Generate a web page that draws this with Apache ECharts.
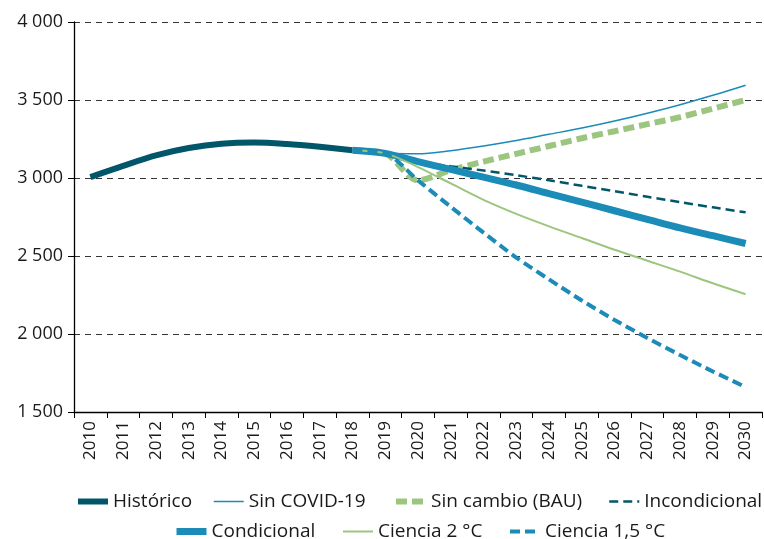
<!DOCTYPE html>
<html>
<head>
<meta charset="utf-8">
<script src="https://cdn.jsdelivr.net/npm/echarts@6/dist/echarts.min.js"></script>
<style>
  html, body { margin: 0; padding: 0; background: #fff; }
  #chart { width: 764px; height: 539px; }
</style>
</head>
<body>
<div id="chart"></div>
<script>
/* datos */
var years = ['2010','2011','2012','2013','2014','2015','2016','2017','2018','2019','2020',
             '2021','2022','2023','2024','2025','2026','2027','2028','2029','2030'];
// 2010-2018
var historico = [3006, 3078, 3145, 3192, 3220, 3228, 3218, 3200, 3178];
// 2018-2030
var sinCovid     = [3178, 3158, 3155, 3175, 3205, 3240, 3280, 3320, 3365, 3415, 3470, 3530, 3595];
var sinCambio    = [3178, 3158, 2985, 3050, 3105, 3155, 3205, 3255, 3300, 3345, 3390, 3445, 3500];
var incondicional= [3178, 3158, 3105, 3075, 3048, 3018, 2985, 2950, 2915, 2880, 2845, 2812, 2780];
var condicional  = [3178, 3158, 3105, 3055, 3005, 2955, 2900, 2845, 2790, 2735, 2680, 2630, 2580];
var ciencia2     = [3178, 3158, 3070, 2965, 2860, 2770, 2690, 2615, 2540, 2470, 2400, 2325, 2255];
var ciencia15    = [3178, 3158, 2985, 2815, 2650, 2490, 2350, 2215, 2090, 1975, 1865, 1760, 1660];
var yTicks = [1500, 2000, 2500, 3000, 3500, 4000];

var fontName = 'Open Sans';

function pad(arr, start) {
    var out = [];
    for (var i = 0; i < years.length; i++) {
        var j = i - start;
        out.push(j >= 0 && j < arr.length ? arr[j] : null);
    }
    return out;
}

var box = document.getElementById('chart');
var myChart = echarts.init(box, null, { renderer: 'canvas' });

function lineSerie(name, data, color, width, dash, z) {
    return {
        name: name,
        type: 'line',
        data: data,
        symbol: 'none',
        smooth: 0.3,
        z: z,
        lineStyle: { color: color, width: width, type: dash || 'solid', cap: 'butt' },
        itemStyle: { color: color },
        emphasis: { disabled: true }
    };
}

// una leyenda por elemento para colocarlas como en el original
function legendItem(name, left, top, width) {
    return {
        left: left, top: top, padding: 0,
        itemWidth: 30, itemHeight: 14,
        itemStyle: { opacity: 0 },
        textStyle: { fontFamily: fontName, fontSize: 19, color: '#1a1a1a' },
        data: [{ name: name, lineStyle: { width: width } }]
    };
}

var cDark = '#02566a', cBlue = '#1b8bb7', cGreen = '#9cc67f';

var options = {
    animation: false,
    grid: { left: 74, top: 22, right: 2, bottom: 127, containLabel: false },
    legend: [
        legendItem('Histórico', 75, 492, 6),
        legendItem('Sin COVID-19', 213, 492, 1.5),
        legendItem('Sin cambio (BAU)', 393, 492, 6),
        legendItem('Incondicional', 608, 492, 2.5),
        legendItem('Condicional', 173, 522, 7),
        legendItem('Ciencia 2 °C', 342, 522, 2),
        legendItem('Ciencia 1,5 °C', 508, 522, 4)
    ],
    xAxis: {
        type: 'category',
        data: years,
        boundaryGap: true,
        axisLine: { lineStyle: { color: '#000', width: 1.3 } },
        axisTick: { show: true, length: 6, lineStyle: { color: '#000' } },
        axisLabel: { rotate: 90, interval: 0, margin: 9, fontFamily: fontName, fontSize: 17, color: '#1a1a1a' }
    },
    yAxis: {
        type: 'value',
        min: yTicks[0],
        max: yTicks[yTicks.length - 1],
        interval: yTicks[1] - yTicks[0],
        axisLine: { show: true, lineStyle: { color: '#000', width: 1.3 } },
        axisTick: { show: true, length: 6, lineStyle: { color: '#000' } },
        axisLabel: {
            margin: 11, fontFamily: fontName, fontSize: 18, color: '#1a1a1a',
            formatter: function (v) { return String(v).replace(/\B(?=(\d{3})+(?!\d))/g, ' '); }
        },
        splitLine: { show: true, lineStyle: { color: '#333', width: 1, type: [6, 5] } }
    },
    series: [
        lineSerie('Histórico', pad(historico, 0), cDark, 6, null, 2),
        lineSerie('Sin COVID-19', pad(sinCovid, 8), cBlue, 1.5, null, 3),
        lineSerie('Sin cambio (BAU)', pad(sinCambio, 8), cGreen, 6, [11, 5], 3),
        lineSerie('Incondicional', pad(incondicional, 8), cDark, 2.5, [9, 5], 3),
        lineSerie('Condicional', pad(condicional, 8), cBlue, 7, null, 3),
        lineSerie('Ciencia 2 °C', pad(ciencia2, 8), cGreen, 2, null, 3),
        lineSerie('Ciencia 1,5 °C', pad(ciencia15, 8), cBlue, 4, [10, 5], 3)
    ]
};
myChart.setOption(options);
</script>
</body>
</html>
